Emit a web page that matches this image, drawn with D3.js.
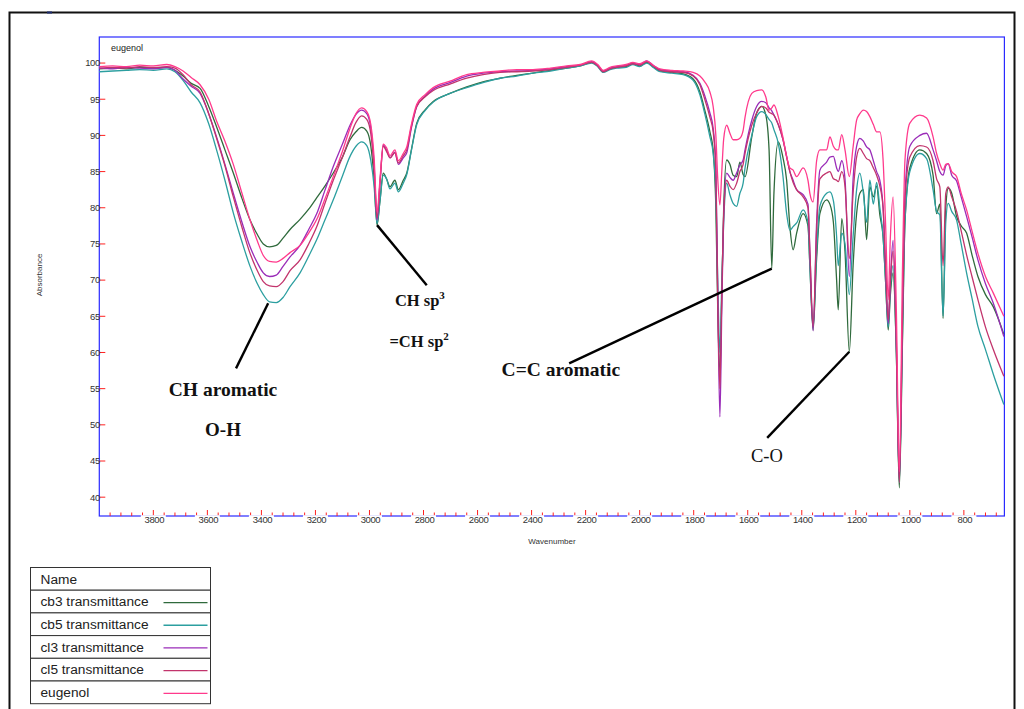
<!DOCTYPE html>
<html>
<head>
<meta charset="utf-8">
<title>eugenol IR</title>
<script src="https://d3js.org/d3.v7.min.js"></script>
<style>
  body { margin: 0; background: #fff; }
  svg { display: block; }
</style>
</head>
<body>
<div id="chart"></div>
<script>
// wavenumber grid (cm-1) shared by all spectra
const wavenumber = [4000,3950,3900,3850,3800,3750,3720,3690,3660,3627,3595,3566,3535,3504,3472,3442,3415,3393,3370,3345,3320,3294,3257,3225,3195,3165,3134,3100,3072,3050,3029,3010,2995,2983,2972,2961,2949,2937,2924,2906,2893,2875,2862,2845,2825,2795,2764,2702,2640,2580,2517,2455,2395,2330,2270,2220,2178,2155,2135,2110,2085,2050,2025,2000,1974,1950,1925,1880,1839,1802,1777,1759,1740,1728,1718,1711,1703,1696,1689,1678,1666,1654,1641,1629,1617,1610,1585,1567,1548,1533,1521,1511,1503,1487,1470,1456,1444,1432,1419,1395,1377,1370,1358,1345,1333,1308,1296,1283,1271,1265,1252,1240,1224,1210,1197,1185,1172,1160,1148,1135,1123,1111,1099,1090,1080,1072,1062,1050,1039,1027,1018,1000,963,938,914,901,889,877,867,858,845,827,810,790,770,748,720,691,652];

const cb3 = [99.2,99.3,99.2,99.4,99.3,99.4,99.0,98.2,97.2,96.5,94.0,91.2,88.0,84.8,81.3,78.3,76.3,75.0,74.6,74.8,75.8,77.0,78.4,79.8,81.4,83.0,84.8,87.0,89.4,90.5,91.1,90.6,88.5,84.0,77.6,81.0,84.8,84.0,82.9,83.8,82.5,83.8,84.8,88.0,91.7,93.5,94.7,95.8,96.7,97.4,97.9,98.3,98.6,99.0,99.3,99.6,100.1,99.6,98.8,99.2,99.4,99.5,99.9,99.6,100.1,99.5,98.9,98.7,98.5,97.8,96.0,93.5,90.5,88.0,80.0,66.0,57.2,68.0,80.0,86.6,86.0,84.5,84.3,86.3,84.6,84.3,89.8,93.1,94.0,92.8,88.0,71.6,82.0,89.1,87.0,83.8,77.4,74.2,76.5,79.2,77.5,72.0,63.1,73.0,79.2,81.1,80.5,78.0,70.0,65.9,78.5,74.0,60.1,72.0,79.2,82.0,82.5,75.6,82.9,81.5,83.0,79.0,76.0,70.0,63.1,68.0,71.0,60.0,41.3,62.0,78.0,85.5,88.0,87.5,84.5,79.2,80.5,64.7,80.0,82.7,82.0,78.8,77.5,76.5,73.5,70.5,68.0,66.3,62.5];

const cb5 = [98.8,98.9,99.0,99.1,99.0,99.2,98.8,97.6,96.0,94.5,91.6,88.0,83.8,79.3,75.3,71.9,69.5,68.0,67.0,66.9,67.6,69.1,71.0,73.3,75.6,78.3,81.1,84.4,87.1,88.5,89.1,88.6,86.5,83.0,77.8,81.0,84.5,84.0,82.6,83.4,82.2,83.4,84.6,87.9,91.5,93.4,94.6,95.8,96.6,97.3,97.9,98.2,98.6,98.9,99.3,99.6,100.0,99.5,98.7,99.1,99.3,99.4,99.8,99.5,100.0,99.4,98.8,98.6,98.4,97.6,95.6,93.0,89.8,87.5,82.0,70.0,60.0,70.0,78.0,83.4,81.8,80.6,80.2,82.0,83.4,85.5,90.0,92.6,93.3,92.9,92.2,91.7,90.8,88.9,84.5,79.2,76.9,77.4,77.9,79.7,78.0,72.0,63.5,74.0,80.2,82.0,82.2,81.0,76.0,72.0,76.5,75.0,68.0,76.0,82.5,84.8,82.0,78.0,83.8,80.5,83.5,80.0,76.0,70.0,63.5,69.0,72.0,60.0,42.0,63.0,78.0,85.0,87.5,86.8,82.5,79.5,79.0,65.0,78.0,80.6,79.5,78.3,75.0,71.0,67.5,63.6,60.4,57.0,52.8];

const cl3 = [99.3,99.2,99.4,99.3,99.2,99.4,99.0,97.8,96.8,95.8,93.0,89.8,86.0,82.0,78.0,74.6,72.4,71.0,70.5,70.7,71.9,73.2,74.8,77.0,79.2,82.4,85.7,88.8,91.4,92.9,93.5,93.0,91.0,86.0,78.3,83.5,88.7,88.0,86.9,87.7,86.0,86.9,87.6,91.0,94.0,95.4,96.4,97.3,98.2,98.6,98.8,98.9,99.0,99.2,99.5,99.7,100.2,99.7,98.9,99.3,99.5,99.7,100.0,99.8,100.3,99.7,99.1,98.9,98.8,98.3,97.2,95.5,93.1,91.0,86.0,68.0,51.1,66.0,79.0,84.8,84.2,83.8,84.8,85.9,86.6,88.0,92.1,94.0,94.7,94.5,93.8,93.4,92.8,91.5,89.5,87.1,85.0,83.8,82.5,81.8,80.5,74.0,63.0,78.0,85.2,86.3,87.0,87.1,85.5,85.0,86.5,84.0,70.5,84.0,88.5,89.6,89.2,88.4,88.0,86.5,85.0,83.8,80.0,72.0,64.0,70.0,75.5,62.0,42.5,66.0,82.0,88.5,90.0,90.3,88.0,86.5,85.0,84.5,85.8,86.1,84.5,83.7,81.5,78.8,76.0,72.8,69.5,66.8,62.2];

const cl5 = [99.3,99.4,99.3,99.5,99.4,99.5,99.3,98.4,97.0,96.0,93.0,89.6,85.8,81.5,77.3,73.7,71.3,69.8,69.2,69.1,69.8,71.3,72.8,75.0,77.4,80.6,83.8,87.0,89.8,91.8,92.7,92.2,90.2,85.5,78.6,83.5,88.5,87.8,86.9,87.6,86.2,87.2,88.0,91.2,94.0,95.3,96.2,97.1,97.9,98.4,98.7,98.8,98.9,99.1,99.4,99.7,100.1,99.6,98.8,99.2,99.4,99.6,99.9,99.7,100.2,99.6,99.0,98.8,98.7,98.2,97.0,95.0,92.5,90.5,85.0,67.0,55.0,68.0,79.0,83.8,83.0,82.5,83.4,85.0,86.0,87.5,91.4,93.1,94.0,93.8,93.2,93.0,92.8,91.5,89.5,87.0,85.0,83.5,82.5,81.5,80.0,74.0,63.5,77.0,84.0,84.8,85.0,84.0,83.8,83.6,85.0,83.0,73.0,82.0,87.0,88.2,87.5,86.8,86.5,85.5,84.5,83.0,80.0,72.0,64.5,70.0,74.0,61.0,42.0,65.0,81.0,87.0,88.6,88.4,86.5,84.0,82.9,72.0,82.0,82.9,81.5,79.5,76.8,73.5,70.5,67.3,63.5,60.4,56.7];

const eugenol = [99.5,99.6,99.5,99.7,99.6,99.8,99.5,98.9,98.0,97.0,95.0,92.0,89.2,86.0,82.0,78.3,75.4,73.4,72.6,72.5,73.0,73.8,74.8,76.5,78.4,81.2,84.3,87.8,91.0,93.0,93.8,93.3,91.5,87.0,79.4,84.0,88.8,88.3,87.2,88.0,86.5,87.5,88.4,91.5,94.3,95.6,96.6,97.5,98.4,98.7,98.9,99.1,99.1,99.3,99.6,99.8,100.3,99.8,99.0,99.4,99.6,99.8,100.1,99.9,100.3,99.7,99.2,99.0,98.9,98.7,98.2,97.4,96.0,94.0,90.0,84.0,80.4,85.0,89.5,91.4,90.3,89.4,89.4,89.6,90.7,92.5,95.8,96.2,96.3,95.3,93.5,93.8,94.2,92.6,89.8,87.1,85.5,85.2,84.3,85.5,83.8,82.0,80.8,86.5,88.0,88.0,89.8,88.5,88.0,88.0,90.1,88.0,84.3,88.4,92.1,93.0,93.5,93.3,92.6,91.5,90.5,90.5,86.6,78.0,67.3,76.0,81.5,66.0,43.5,72.0,86.6,91.7,92.8,92.4,89.8,87.5,86.1,85.2,86.0,86.1,85.0,84.3,82.0,79.7,76.8,73.7,70.5,68.2,65.0];

const seriesNames = ["cb3 transmittance", "cb5 transmittance", "cl3 transmittance", "cl5 transmittance", "eugenol"];
const seriesValues = [cb3, cb5, cl3, cl5, eugenol];
const seriesColors = ["#2f6a3c", "#2c9fa0", "#9a2cb8", "#c2346c", "#ff3a8c"];

const yTicks = [40, 45, 50, 55, 60, 65, 70, 75, 80, 85, 90, 95, 100];
const xTickLabels = [3800, 3600, 3400, 3200, 3000, 2800, 2600, 2400, 2200, 2000, 1800, 1600, 1400, 1200, 1000, 800];

// annotation anchors in data space: [wavenumber, value]
const annotations = [
  { from: [3375, 66.8], to: [3494, 57.8] },
  { from: [2972, 77.6], to: [2788, 69.3] },
  { from: [1511, 71.6], to: [2261, 58.5] },
  { from: [1224, 60.1], to: [1528, 48.2] }
];

const W = 1024, H = 709;
const svg = d3.select("#chart").append("svg").attr("width", W).attr("height", H);

// outer page frame
svg.append("rect").attr("x", 9.5).attr("y", 12.5).attr("width", 1005).attr("height", 720)
  .attr("fill", "none").attr("stroke", "#111").attr("stroke-width", 2);
svg.append("rect").attr("x", 47).attr("y", 11.5).attr("width", 5).attr("height", 2).attr("fill", "#1c2a6b");

const plot = { left: 99.3, right: 1004.4, top: 37, bottom: 516 };
const x = d3.scaleLinear().domain([4000, 650]).range([plot.left, plot.right]);
const y = d3.scaleLinear().domain([37.4, 103.6]).range([plot.bottom, plot.top]);

// plot frame
svg.append("rect").attr("x", plot.left).attr("y", plot.top)
  .attr("width", plot.right - plot.left).attr("height", plot.bottom - plot.top)
  .attr("fill", "none").attr("stroke", "#2a2aff").attr("stroke-width", 1.2);

// spectra
const line = d3.line().x(d => x(d[0])).y(d => y(d[1])).curve(d3.curveMonotoneX);
seriesValues.forEach((vals, i) => {
  const pts = wavenumber.map((w, j) => [w, vals[j]]);
  svg.append("path").datum(pts)
    .attr("fill", "none").attr("stroke", seriesColors[i])
    .attr("stroke-width", 1.3).attr("stroke-linejoin", "round")
    .attr("d", line);
});

// y axis ticks (red, inside)
const yAxis = svg.append("g");
yTicks.forEach(t => {
  yAxis.append("line").attr("x1", plot.left).attr("x2", plot.left + 6)
    .attr("y1", y(t)).attr("y2", y(t)).attr("stroke", "#ff2020").attr("stroke-width", 1);
  yAxis.append("text").attr("x", plot.left + 0.5).attr("y", y(t)).attr("dy", "0.35em")
    .attr("text-anchor", "end").attr("font-family", "Liberation Sans, Arial, sans-serif")
    .attr("font-size", "9.5px").attr("fill", "#333").attr("letter-spacing", "-0.4")
    .text(t);
});

// x axis ticks every 40, major every 200
const xAxis = svg.append("g");
d3.range(3960, 660, -40).forEach(t => {
  const major = t % 200 === 0;
  xAxis.append("line").attr("x1", x(t)).attr("x2", x(t))
    .attr("y1", plot.bottom).attr("y2", plot.bottom - (major ? 6 : 3.5))
    .attr("stroke", "#ff2020").attr("stroke-width", 1);
});
xTickLabels.forEach(t => {
  xAxis.append("rect").attr("x", x(t) - 12.5).attr("y", plot.bottom - 0.8)
    .attr("width", 25).attr("height", 11).attr("fill", "#fff");
  xAxis.append("text").attr("x", x(t) + 1).attr("y", plot.bottom + 7)
    .attr("text-anchor", "middle").attr("font-family", "Liberation Sans, Arial, sans-serif")
    .attr("font-size", "9.5px").attr("fill", "#333").attr("letter-spacing", "-0.4")
    .text(t);
});

// axis titles
svg.append("text").attr("transform", `translate(41.5,275) rotate(-90)`)
  .attr("text-anchor", "middle").attr("font-family", "Liberation Sans, Arial, sans-serif")
  .attr("font-size", "8px").attr("fill", "#333").text("Absorbance");
svg.append("text").attr("x", 552).attr("y", 544)
  .attr("text-anchor", "middle").attr("font-family", "Liberation Sans, Arial, sans-serif")
  .attr("font-size", "8px").attr("fill", "#333").text("Wavenumber");
svg.append("text").attr("x", 111).attr("y", 51)
  .attr("font-family", "Liberation Sans, Arial, sans-serif")
  .attr("font-size", "9px").attr("fill", "#222").text("eugenol");

// annotation leader lines
annotations.forEach(a => {
  svg.append("line").attr("x1", x(a.from[0])).attr("y1", y(a.from[1]))
    .attr("x2", x(a.to[0])).attr("y2", y(a.to[1]))
    .attr("stroke", "#000").attr("stroke-width", 2.4);
});

// annotation labels
const serif = "Liberation Serif, Times New Roman, serif";
function label(wn, v, anchor, weight, size) {
  return svg.append("text").attr("x", x(wn)).attr("y", y(v))
    .attr("text-anchor", anchor).attr("font-family", serif)
    .attr("font-size", size + "px").attr("font-weight", weight).attr("fill", "#111");
}
label(3542, 54.0, "middle", "bold", 19.5).text("CH aromatic");
label(3542, 48.4, "middle", "bold", 19).text("O-H");
const sp3 = label(2906, 66.4, "start", "bold", 16.5);
sp3.append("tspan").text("CH sp");
sp3.append("tspan").attr("dy", -7).attr("font-size", "11px").text("3");
const sp2 = label(2926, 60.8, "start", "bold", 16.5);
sp2.append("tspan").text("=CH sp");
sp2.append("tspan").attr("dy", -7).attr("font-size", "11px").text("2");
label(2511, 56.7, "start", "bold", 19.5).text("C=C aromatic");
label(1588, 44.9, "start", "normal", 18.5).text("C-O");

// legend table
const leg = { x: 30.5, y: 567.5, w: 180, rowH: 22.7 };
const legG = svg.append("g");
const rows = ["Name"].concat(seriesNames);
rows.forEach((r, i) => {
  const ry = leg.y + i * leg.rowH;
  legG.append("rect").attr("x", leg.x).attr("y", ry).attr("width", leg.w).attr("height", leg.rowH)
    .attr("fill", "#fff").attr("stroke", "#333").attr("stroke-width", 1);
  legG.append("text").attr("x", leg.x + 10).attr("y", ry + leg.rowH / 2).attr("dy", "0.35em")
    .attr("font-family", "Liberation Sans, Arial, sans-serif").attr("font-size", "13.7px")
    .attr("fill", "#222").text(r);
  if (i > 0) {
    legG.append("line").attr("x1", leg.x + 133).attr("x2", leg.x + 177)
      .attr("y1", ry + leg.rowH / 2 + 1).attr("y2", ry + leg.rowH / 2 + 1)
      .attr("stroke", seriesColors[i - 1]).attr("stroke-width", 1.3);
  }
});
</script>
</body>
</html>
